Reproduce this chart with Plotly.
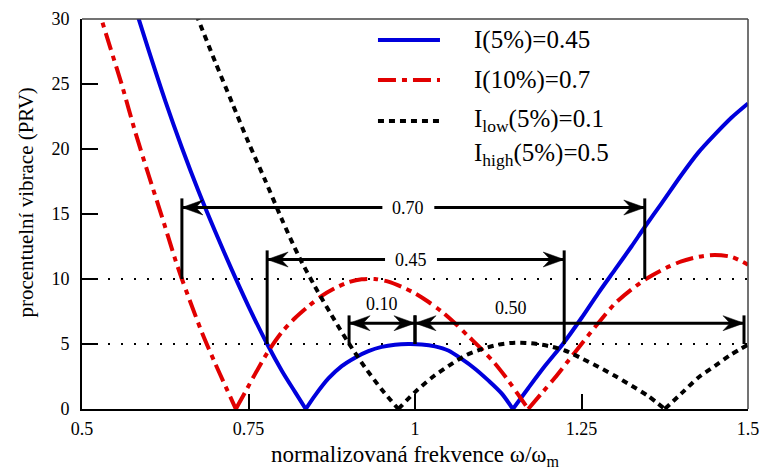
import plotly.graph_objects as go

# ---------------- data ----------------
blue_x = [0.575, 0.583, 0.60, 0.625, 0.65, 0.675, 0.70, 0.725, 0.75, 0.778, 0.80, 0.82, 0.836,
          0.85, 0.87, 0.89, 0.91, 0.93, 0.95, 0.97, 0.99, 1.01, 1.03, 1.05, 1.07, 1.09, 1.11, 1.13, 1.147,
          1.17, 1.195, 1.222, 1.25, 1.275, 1.30, 1.325, 1.345, 1.37, 1.40, 1.425, 1.45, 1.475, 1.50]
blue_y = [31.6, 30.35, 27.6, 23.7, 20.1, 16.75, 13.65, 10.7, 7.9, 5.0, 2.95, 1.3, 0.0,
          1.05, 2.35, 3.3, 3.95, 4.45, 4.78, 4.95, 5.0, 4.97, 4.82, 4.5, 3.85, 3.1, 2.2, 1.2, 0.0,
          1.6, 3.3, 5.0, 7.0, 8.9, 10.7, 12.5, 14.0, 15.8, 18.0, 19.7, 21.1, 22.4, 23.5]

red_x = [0.52, 0.54, 0.56, 0.58, 0.60, 0.62, 0.64, 0.65, 0.66, 0.68, 0.70, 0.715, 0.731,
         0.745, 0.76, 0.778, 0.80, 0.82, 0.84, 0.86, 0.88, 0.90, 0.92, 0.94, 0.96, 0.98, 1.00,
         1.02, 1.04, 1.06, 1.08, 1.10, 1.12, 1.14, 1.155, 1.17,
         1.19, 1.21, 1.23, 1.25, 1.275, 1.30, 1.325, 1.35, 1.375, 1.40, 1.425, 1.45, 1.475, 1.50]
red_y = [31.5, 28.2, 24.9, 21.3, 18.0, 14.8, 11.5, 10.0, 8.6, 5.9, 3.5, 1.8, 0.0,
         1.3, 2.7, 4.3, 5.9, 7.0, 7.9, 8.7, 9.3, 9.75, 9.98, 10.0, 9.8, 9.4, 8.9,
         8.25, 7.5, 6.6, 5.6, 4.6, 3.5, 2.2, 1.1, 0.0,
         1.2, 2.4, 3.7, 5.0, 6.6, 8.1, 9.2, 10.1, 10.8, 11.35, 11.7, 11.85, 11.7, 11.1]

black_x = [0.665, 0.675, 0.70, 0.725, 0.75, 0.775, 0.80, 0.825, 0.85, 0.875, 0.90, 0.925, 0.95, 0.975,
           1.0, 1.025, 1.05, 1.075, 1.10, 1.125, 1.15, 1.175, 1.20, 1.225, 1.25, 1.275, 1.30, 1.325,
           1.35, 1.375, 1.40, 1.425, 1.45, 1.475, 1.50]
black_y = [31.1, 29.9, 26.7, 23.6, 20.5, 17.6, 14.6, 11.8, 9.4, 7.2, 5.1, 3.2, 1.5, 0.0,
           1.3, 2.4, 3.3, 4.1, 4.6, 4.95, 5.1, 5.05, 4.85, 4.5, 3.9, 3.25, 2.55, 1.8,
           1.0, 0.0, 1.2, 2.4, 3.3, 4.2, 4.95]

x_ticks = [0.5, 0.75, 1, 1.25, 1.5]
x_tick_text = ["0.5", "0.75", "1", "1.25", "1.5"]
y_ticks = [0, 5, 10, 15, 20, 25, 30]
tolerance_levels = [5, 10]

x_title = "normalizovaná frekvence ω/ω<sub>m</sub>"
y_title = "procentuelní vibrace (PRV)"
legend_labels = ["I(5%)=0.45", "I(10%)=0.7", "I<sub>low</sub>(5%)=0.1", "I<sub>high</sub>(5%)=0.5"]

# insensitivity intervals: start, end, arrow level, bottom/top of markers, label
iv_x0 = [0.65, 0.778, 0.901, 1.0]
iv_x1 = [1.345, 1.224, 1.0, 1.494]
iv_y = [15.5, 11.5, 6.6, 6.6]
iv_ybot = [10.0, 5.0, 5.0, 5.0]
iv_ytop = [16.2, 12.2, 7.2, 7.2]
iv_label = ["0.70", "0.45", "0.10", "0.50"]
iv_label_x = [0.99, 0.994, 0.95, 1.144]
iv_label_y = [15.5, 11.5, 8.1, 7.75]
iv_inline = [True, True, False, False]

# ---------------- style ----------------
BLUE = "rgb(0,0,220)"
RED = "rgb(225,0,0)"
BLACK = "black"
SERIF = "Liberation Serif, Times New Roman, serif"
RED_DASH = "18px,6px,5px,6px"
BLACK_DASH = "6px,5px"


def split_at_zeros(xs, ys):
    """Break a curve at its interior zeros so each lobe is smoothed separately."""
    ox, oy = [], []
    for i, (x, y) in enumerate(zip(xs, ys)):
        ox.append(x)
        oy.append(y)
        if y == 0 and 0 < i < len(xs) - 1:
            ox += [None, x]
            oy += [None, y]
    return ox, oy


fig = go.Figure()
for xs, ys, st in [(blue_x, blue_y, dict(color=BLUE, width=4)),
                   (red_x, red_y, dict(color=RED, width=4, dash=RED_DASH)),
                   (black_x, black_y, dict(color=BLACK, width=4, dash=BLACK_DASH))]:
    sx, sy = split_at_zeros(xs, ys)
    fig.add_trace(go.Scatter(x=sx, y=sy, mode="lines", connectgaps=False,
                             line=dict(shape="spline", smoothing=0.8, **st), showlegend=False))

shapes = []
for lv in tolerance_levels:
    shapes.append(dict(type="line", xref="paper", x0=0, x1=1, yref="y", y0=lv, y1=lv,
                       line=dict(color="black", width=2, dash="2px,11px"), layer="below"))
# top & right frame
shapes.append(dict(type="line", xref="paper", yref="paper", x0=0, x1=1, y0=1, y1=1,
                   line=dict(color="#444", width=1.5)))
shapes.append(dict(type="line", xref="paper", yref="paper", x0=1, x1=1, y0=0, y1=1,
                   line=dict(color="#444", width=1.5)))

HEAD_LEFT = "M0,0 L21,7.5 L14,0 L21,-7.5 Z"
HEAD_RIGHT = "M0,0 L-21,7.5 L-14,0 L-21,-7.5 Z"


def arrow(xa, xb, y, head_at_a=True, head_at_b=False):
    shapes.append(dict(type="line", xref="x", yref="y", x0=xa, x1=xb, y0=y, y1=y,
                       line=dict(color="black", width=3)))
    lo = min(xa, xb)
    for xh, want in ((xa, head_at_a), (xb, head_at_b)):
        if not want:
            continue
        path = HEAD_LEFT if xh == lo else HEAD_RIGHT
        shapes.append(dict(type="path", xref="x", yref="y", xsizemode="pixel", ysizemode="pixel",
                           xanchor=xh, yanchor=y, path=path, fillcolor="black",
                           line=dict(color="black", width=0.5)))


annotations = []
for i in range(len(iv_x0)):
    x0, x1, y = iv_x0[i], iv_x1[i], iv_y[i]
    for xv in (x0, x1):
        shapes.append(dict(type="line", xref="x", yref="y", x0=xv, x1=xv,
                           y0=iv_ybot[i], y1=iv_ytop[i], line=dict(color="black", width=3)))
    if iv_inline[i]:
        gap = 0.039
        lx = iv_label_x[i]
        arrow(x0, lx - gap, y, head_at_a=True)
        arrow(x1, lx + gap, y, head_at_a=True)
    else:
        arrow(x0, x1, y, head_at_a=True, head_at_b=True)
    annotations.append(dict(x=iv_label_x[i], y=iv_label_y[i], xref="x", yref="y",
                            text=iv_label[i], showarrow=False,
                            font=dict(family=SERIF, size=18, color="black")))

# manual legend
leg_y = [0.9462, 0.8436, 0.7385, 0.6513]
leg_styles = [dict(color=BLUE, width=4), dict(color=RED, width=4, dash=RED_DASH),
              dict(color=BLACK, width=4, dash=BLACK_DASH)]
for k, st in enumerate(leg_styles):
    shapes.append(dict(type="line", xref="paper", yref="paper", x0=0.4444, x1=0.5375,
                       y0=leg_y[k], y1=leg_y[k], line=st))
for k, lab in enumerate(legend_labels):
    annotations.append(dict(x=0.5856, y=leg_y[k], xref="paper", yref="paper", text=lab,
                            showarrow=False, xanchor="left", yanchor="middle",
                            font=dict(family=SERIF, size=25, color="black")))

# y-axis title (placed slightly above the axis centre, as in the reference)
annotations.append(dict(x=-0.084, y=0.5295, xref="paper", yref="paper",
                        text=y_title, showarrow=False, textangle=-90,
                        xanchor="center", yanchor="middle",
                        font=dict(family=SERIF, size=21, color="black")))

fig.update_layout(
    width=760, height=474,
    margin=dict(l=82, r=12, t=19, b=65, autoexpand=False),
    paper_bgcolor="white", plot_bgcolor="white",
    shapes=shapes, annotations=annotations,
    showlegend=False,
)
fig.update_xaxes(range=[0.5, 1.5], tickvals=x_ticks, ticktext=x_tick_text, automargin=False,
                 ticks="inside", ticklen=15, tickwidth=1.5, tickcolor="black",
                 showline=True, linecolor="black", linewidth=2, showgrid=False, zeroline=False,
                 ticklabelstandoff=2,
                 tickfont=dict(family=SERIF, size=18, color="black"),
                 title=dict(text=x_title, standoff=8,
                            font=dict(family=SERIF, size=23, color="black")))
fig.update_yaxes(range=[0, 30], tickvals=y_ticks, automargin=False,
                 ticks="inside", ticklen=16, tickwidth=1.5, tickcolor="black",
                 showline=True, linecolor="black", linewidth=2, showgrid=False, zeroline=False,
                 ticklabelstandoff=7,
                 tickfont=dict(family=SERIF, size=18, color="black"))

fig.write_html("out.html")
